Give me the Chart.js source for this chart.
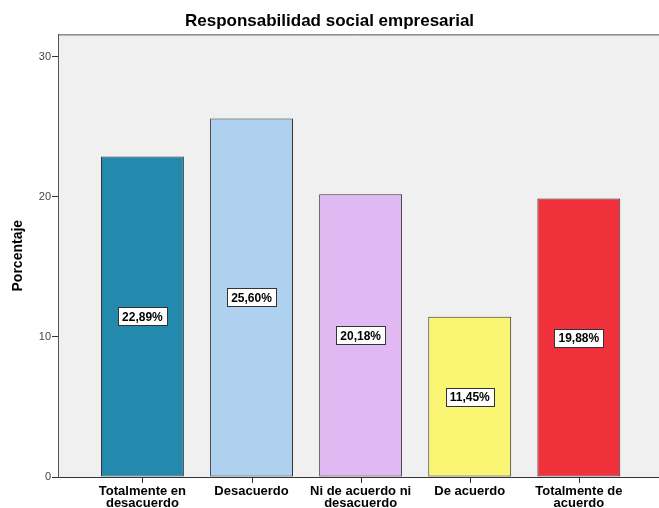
<!DOCTYPE html>
<html>
<head>
<meta charset="utf-8">
<script src="https://cdn.jsdelivr.net/npm/chart.js@4/dist/chart.umd.min.js"></script>
<style>
  html, body { margin: 0; padding: 0; background: #ffffff; }
  #c { display: block; }
</style>
</head>
<body>
<canvas id="c" width="659" height="508"></canvas>
<script>
// Response categories (two-line labels where the text wraps)
const categories = [
  ['Totalmente en', 'desacuerdo'],
  'Desacuerdo',
  ['Ni de acuerdo ni', 'desacuerdo'],
  'De acuerdo',
  ['Totalmente de', 'acuerdo']
];
// Percentage of respondents per category
const percentages = [22.89, 25.60, 20.18, 11.45, 19.88];
// Fill colour of each bar
const barColors = ['#2389ad', '#aed1ef', '#e0b8f2', '#faf673', '#f0303a'];
// Value-axis ticks
const yTicks = [0, 10, 20, 30];

const FONT = "'Liberation Sans', Arial, sans-serif";

// Grey plot panel with a top border line
const panelPlugin = {
  id: 'panel',
  beforeDraw(chart) {
    const { ctx, chartArea: a } = chart;
    ctx.save();
    ctx.fillStyle = '#f0f0f0';
    ctx.fillRect(a.left, a.top, a.right - a.left, a.bottom - a.top);
    ctx.strokeStyle = '#555555';
    ctx.lineWidth = 1;
    ctx.beginPath();
    ctx.moveTo(a.left, a.top + 0.5);
    ctx.lineTo(a.right, a.top + 0.5);
    ctx.stroke();
    ctx.restore();
  }
};

// Short tick marks under the category axis, one per category
const categoryTickPlugin = {
  id: 'categoryTicks',
  afterDraw(chart) {
    const { ctx, chartArea: a } = chart;
    const xs = chart.scales.x;
    ctx.save();
    ctx.strokeStyle = '#333333';
    ctx.lineWidth = 1;
    ctx.beginPath();
    xs.ticks.forEach((t) => {
      const px = Math.round(xs.getPixelForValue(t.value)) + 0.5;
      ctx.moveTo(px, a.bottom);
      ctx.lineTo(px, a.bottom + 6);
    });
    ctx.stroke();
    ctx.restore();
  }
};

// Boxed percentage label in the middle of each bar
const valueBoxPlugin = {
  id: 'valueBoxes',
  afterDatasetsDraw(chart) {
    const { ctx } = chart;
    const meta = chart.getDatasetMeta(0);
    ctx.save();
    ctx.font = 'bold 12px ' + FONT;
    ctx.textAlign = 'center';
    ctx.textBaseline = 'middle';
    meta.data.forEach((bar, i) => {
      const text = percentages[i].toFixed(2).replace('.', ',') + '%';
      const w = ctx.measureText(text).width + 8;
      const h = 18;
      const cx = bar.x;
      const cy = (bar.y + bar.base) / 2;
      const x0 = Math.round(cx - w / 2) + 0.5;
      const y0 = Math.round(cy - h / 2) + 0.5;
      ctx.fillStyle = '#ffffff';
      ctx.fillRect(x0, y0, Math.round(w), h);
      ctx.strokeStyle = '#333333';
      ctx.lineWidth = 1;
      ctx.strokeRect(x0, y0, Math.round(w), h);
      ctx.fillStyle = '#000000';
      ctx.fillText(text, cx, cy + 1);
    });
    ctx.restore();
  }
};

new Chart(document.getElementById('c'), {
  type: 'bar',
  data: {
    datasets: [{
      data: percentages.map((v, i) => ({ x: i, y: v })),
      backgroundColor: barColors,
      borderColor: '#333333',
      borderWidth: 1,
      borderSkipped: false,
      barPercentage: 0.76,
      categoryPercentage: 1.0
    }]
  },
  plugins: [panelPlugin, valueBoxPlugin, categoryTickPlugin],
  options: {
    responsive: false,
    animation: false,
    layout: { padding: { left: 0, right: 0, top: 0, bottom: 0 } },
    plugins: {
      legend: { display: false },
      tooltip: { enabled: false },
      title: {
        display: true,
        text: 'Responsabilidad social empresarial',
        color: '#000000',
        font: { family: FONT, size: 17, weight: 'bold' },
        padding: { top: 11, bottom: 3 }
      }
    },
    scales: {
      x: {
        type: 'linear',
        min: -0.774,
        max: 4.735,
        offset: false,
        afterFit(scale) { scale.height = 31; },
        afterBuildTicks(scale) {
          scale.ticks = categories.map((_, i) => ({ value: i }));
        },
        ticks: {
          autoSkip: false,
          maxRotation: 0,
          padding: 2,
          color: '#000000',
          font: { family: FONT, size: 13, weight: 'bold', lineHeight: 0.95 },
          callback: (v) => categories[v]
        },
        grid: {
          display: false,
          drawOnChartArea: false,
          tickLength: 6
        },
        border: { display: true, color: '#333333' }
      },
      y: {
        min: 0,
        max: 31.6,
        afterFit(scale) { scale.width = 58; },
        afterBuildTicks(scale) {
          scale.ticks = yTicks.map(v => ({ value: v }));
        },
        title: {
          display: true,
          text: 'Porcentaje',
          color: '#000000',
          font: { family: FONT, size: 14, weight: 'bold' },
          padding: { top: 10, bottom: 0 }
        },
        ticks: {
          padding: 1,
          color: '#444444',
          font: { family: FONT, size: 11 }
        },
        grid: {
          drawOnChartArea: false,
          drawTicks: true,
          tickLength: 6,
          color: '#333333'
        },
        border: { display: true, color: '#555555' }
      }
    }
  }
});
</script>
</body>
</html>
